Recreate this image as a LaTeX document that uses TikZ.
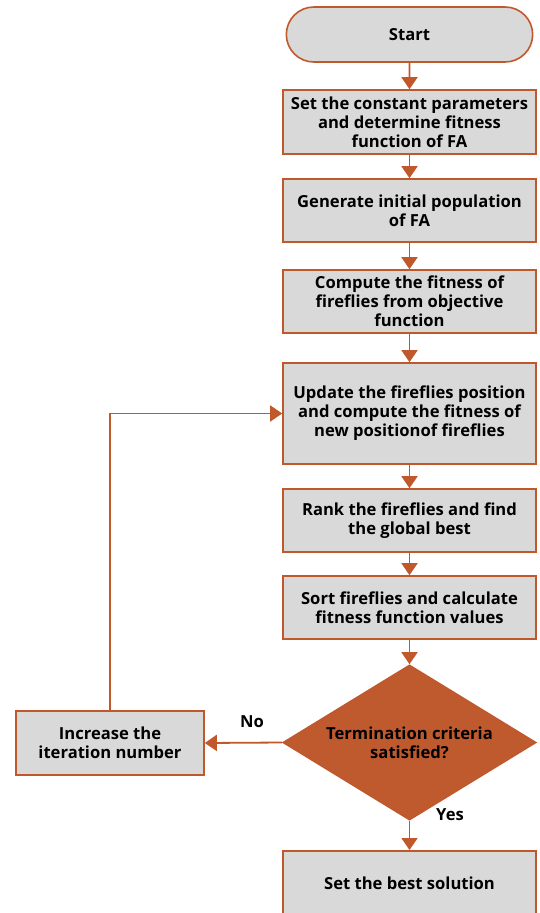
\documentclass[tikz,border=0pt]{standalone}
\usepackage{fontspec}
\setmainfont{Open Sans}
\usetikzlibrary{arrows.meta,shapes.geometric,shapes.misc}
\definecolor{rust}{HTML}{C0582C}
\definecolor{boxgray}{HTML}{D9D9D9}
\definecolor{dfill}{HTML}{BE5A2E}
\begin{document}
\begin{tikzpicture}[x=1pt,y=-1pt,
  font=\bfseries\fontsize{16.6}{19}\selectfont,
  stepbox/.style={draw=rust,line width=1.6pt,fill=boxgray,minimum width=253pt,align=center,inner sep=2pt},
  termbox/.style={draw=rust,line width=1.6pt,fill=boxgray,rounded rectangle,minimum width=253pt,minimum height=55pt},
  decision/.style={draw=rust,line width=1.6pt,fill=dfill,diamond,aspect=1.63,minimum width=253pt,minimum height=155pt,inner sep=0pt,align=center},
  flow/.style={draw=rust,line width=1.8pt,-{Triangle[width=16pt,length=12pt]}},
  lbl/.style={font=\bfseries\fontsize{16.6}{18}\selectfont}]
\useasboundingbox (0,0) rectangle (540,913);
\begin{scope}
\clip (0,0) rectangle (540,913);
\node[termbox] (start) at (409.5,34.5) {Start};
\node[stepbox,minimum height=64pt] (s1) at (409.5,122) {Set the constant parameters\\and determine fitness\\function of FA};
\node[stepbox,minimum height=63pt] (s2) at (409.5,210.5) {Generate initial population\\of FA};
\node[stepbox,minimum height=63pt] (s3) at (409.5,301.5) {Compute the fitness of\\fireflies from objective\\function};
\node[stepbox,minimum height=101pt] (s4) at (409.5,413.5) {Update the fireflies position\\and compute the fitness of\\new positionof fireflies};
\node[stepbox,minimum height=63pt] (s5) at (409.5,520.5) {Rank the fireflies and find\\the global best};
\node[stepbox,minimum height=63pt] (s6) at (409.5,607.5) {Sort fireflies and calculate\\fitness function values};
\node[decision] (dec) at (409.5,742.5) {Termination criteria\\satisfied?};
\node[stepbox,minimum width=188pt,minimum height=64pt] (inc) at (110,743) {Increase the\\iteration number};
\node[stepbox,minimum height=66pt,anchor=north] (fin) at (409.5,850) {};
\node at (409.5,883) {Set the best solution};
\end{scope}
\coordinate (corner) at (110,413.5);
\draw[flow] (start) -- (s1);
\draw[flow] (s1) -- (s2);
\draw[flow] (s2) -- (s3);
\draw[flow] (s3) -- (s4);
\draw[flow] (s4) -- (s5);
\draw[flow] (s5) -- (s6);
\draw[flow] (s6) -- (dec);
\draw[flow] (dec.south) -- (fin.north);
\draw[flow] (dec.west) -- (inc.east);
\draw[flow] (inc.north) -- (corner) -- (s4.west);
\node[lbl] (no) at (252,722) {No};
\node[lbl] (yes) at (450,815) {Yes};
\end{tikzpicture}
\end{document}
